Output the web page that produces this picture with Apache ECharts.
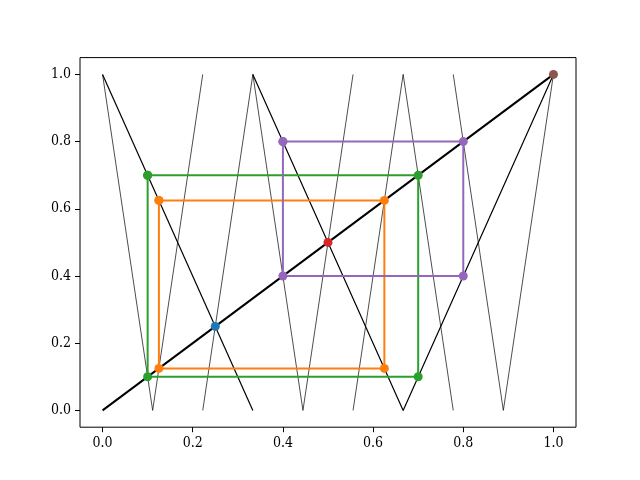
<!DOCTYPE html>
<html>
<head>
<meta charset="utf-8">
<script src="https://cdn.jsdelivr.net/npm/echarts@6/dist/echarts.min.js"></script>
<style>
  html, body { margin: 0; padding: 0; background: #fff; }
  #chart { width: 640px; height: 480px; }
</style>
</head>
<body>
<div id="chart"></div>
<script>
// tick positions on both axes
const tickValues = [0, 0.2, 0.4, 0.6, 0.8, 1.0]

// diagonal y = x
const diagonal = [[0, 0], [1, 1]]

// the map f, drawn in two pieces (jump at x = 1/3)
const mapLeft = [[0, 1], [1 / 3, 0]]
const mapRight = [[1 / 3, 1], [2 / 3, 0], [1, 1]]

// second iterate f(f(x)), four continuous pieces
const iterA = [[0, 1], [1 / 9, 0], [2 / 9, 1]]
const iterB = [[2 / 9, 0], [1 / 3, 1], [4 / 9, 0], [5 / 9, 1]]
const iterC = [[5 / 9, 0], [2 / 3, 1], [7 / 9, 0]]
const iterD = [[7 / 9, 1], [8 / 9, 0], [1, 1]]

// fixed points
const fixedBlue = 0.25
const fixedRed = 0.5
const fixedBrown = 1.0

// period-2 orbits [low, high]
const orbitOrange = [0.125, 0.625]
const orbitGreen = [0.1, 0.7]
const orbitPurple = [0.4, 0.8]

const cobweb = (o) => [
    [o[0], o[1]], [o[1], o[1]], [o[1], o[0]], [o[0], o[0]], [o[0], o[1]]
]

const plainLine = (data, width, color) => ({
    type: 'line',
    data: data,
    showSymbol: false,
    symbol: 'none',
    lineStyle: { color: color, width: width },
    silent: true,
    z: 2
})

const orbitLine = (o, color) => ({
    type: 'line',
    data: cobweb(o),
    symbol: 'circle',
    symbolSize: 9,
    showSymbol: true,
    itemStyle: { color: color },
    lineStyle: { color: color, width: 2 },
    z: 3
})

const dot = (v, color) => ({
    type: 'scatter',
    data: [[v, v]],
    symbolSize: 9,
    itemStyle: { color: color, opacity: 1 },
    z: 4
})

const chart = echarts.init(document.getElementById('chart'))

const axisCommon = {
    type: 'value',
    min: -0.05,
    max: 1.05,
    splitLine: { show: false },
    axisLine: { show: false, onZero: false },
    axisTick: {
        show: true,
        inside: false,
        length: 5,
        customValues: tickValues,
        lineStyle: { color: '#000', width: 1 }
    },
    axisLabel: {
        customValues: tickValues,
        formatter: (v) => v.toFixed(1),
        color: '#000',
        fontFamily: 'DejaVu Serif Condensed, DejaVu Serif',
        fontSize: 14,
        margin: 9
    }
}

chart.setOption({
    animation: false,
    backgroundColor: '#fff',
    grid: {
        left: 80,
        right: 64,
        top: 57.6,
        bottom: 52.8,
        show: true,
        borderColor: '#000',
        borderWidth: 1,
        containLabel: false
    },
    xAxis: axisCommon,
    yAxis: axisCommon,
    series: [
        plainLine(diagonal, 2, '#000'),
        plainLine(mapLeft, 1.2, '#000'),
        plainLine(mapRight, 1.2, '#000'),
        plainLine(iterA, 0.7, '#000'),
        plainLine(iterB, 0.7, '#000'),
        plainLine(iterC, 0.7, '#000'),
        plainLine(iterD, 0.7, '#000'),
        dot(fixedBlue, '#1f77b4'),
        orbitLine(orbitOrange, '#ff7f0e'),
        orbitLine(orbitGreen, '#2ca02c'),
        dot(fixedRed, '#d62728'),
        orbitLine(orbitPurple, '#9467bd'),
        dot(fixedBrown, '#8c564b')
    ]
})
</script>
</body>
</html>
